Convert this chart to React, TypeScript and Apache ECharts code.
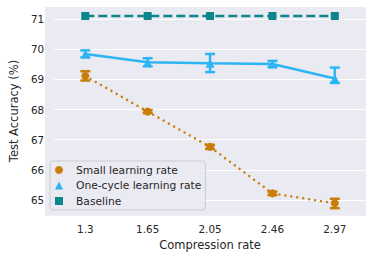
import React, { useEffect, useRef } from "react";
import * as echarts from "echarts";

const categories = ["1.3", "1.65", "2.05", "2.46", "2.97"];
const smallMean = [69.11, 67.93, 66.76, 65.22, 64.89];
const smallLow = [68.96, 67.88, 66.69, 65.16, 64.73];
const smallHigh = [69.27, 67.98, 66.83, 65.28, 65.04];
const oneCycleMean = [69.84, 69.57, 69.53, 69.51, 69.03];
const oneCycleLow = [69.73, 69.43, 69.24, 69.41, 68.88];
const oneCycleHigh = [69.96, 69.70, 69.84, 69.61, 69.39];
const baselineMean = [71.1, 71.1, 71.1, 71.1, 71.1];
const yTicks = [65, 66, 67, 68, 69, 70, 71];

const C_SMALL = "#C97E0C";
const C_ONE = "#2DB5F3";
const C_BASE = "#0B878C";
const FONT = "DejaVu Sans";
const TXT = "#262626";

function errorSeries(name: string, low: number[], high: number[], color: string) {
  return {
    type: "custom",
    name: name + " err",
    clip: false,
    silent: true,
    z: 3,
    data: low.map((l, i) => [i, l, high[i]]),
    renderItem: (params: any, api: any) => {
      const x = api.value(0);
      const p1 = api.coord([x, api.value(1)]);
      const p2 = api.coord([x, api.value(2)]);
      const hw = 5;
      const st = { stroke: color, lineWidth: 2.5 };
      return {
        type: "group",
        children: [
          { type: "line", shape: { x1: p1[0], y1: p1[1], x2: p2[0], y2: p2[1] }, style: st },
          { type: "line", shape: { x1: p1[0] - hw, y1: p1[1], x2: p1[0] + hw, y2: p1[1] }, style: st },
          { type: "line", shape: { x1: p2[0] - hw, y1: p2[1], x2: p2[0] + hw, y2: p2[1] }, style: st },
        ],
      };
    },
  };
}

export default function App() {
  const ref = useRef<HTMLDivElement>(null);
  useEffect(() => {
    if (!ref.current) return;
    const chart = echarts.init(ref.current, undefined, { renderer: "svg" });
    chart.setOption({
      animation: false,
      backgroundColor: "#ffffff",
      textStyle: { fontFamily: FONT },
      graphic: [
        {
          type: "rect",
          z: -10,
          silent: true,
          shape: { x: 45, y: 7, width: 321, height: 208.7 },
          style: { fill: "#EAEAF2" },
        },
      ],
      grid: { left: 45, right: 8, top: 19, bottom: 58 },
      xAxis: {
        type: "category",
        data: categories,
        boundaryGap: true,
        offset: 15.7,
        axisLine: { show: false },
        axisTick: { show: false },
        splitLine: { show: false },
        axisLabel: { color: TXT, fontSize: 10.4, fontFamily: FONT, margin: 8 },
        name: "Compression rate",
        nameLocation: "middle",
        nameGap: 21.5,
        nameTextStyle: { color: TXT, fontSize: 11.5, fontFamily: FONT },
      },
      yAxis: {
        type: "value",
        min: yTicks[0],
        max: yTicks[yTicks.length - 1],
        interval: 1,
        axisLine: { show: false },
        axisTick: { show: false },
        splitLine: { show: true, lineStyle: { color: "#ffffff", width: 1.2 } },
        axisLabel: { color: TXT, fontSize: 10.4, fontFamily: FONT, margin: 10 },
        name: "Test Accuracy (%)",
        nameLocation: "middle",
        nameGap: 27,
        nameRotate: 90,
        nameTextStyle: { color: TXT, fontSize: 11.5, fontFamily: FONT, padding: [0, 3, 4, 0] },
      },
      legend: {
        orient: "vertical",
        left: 50,
        top: 161,
        padding: [3, 4, 3, 5],
        itemWidth: 24,
        itemHeight: 8,
        itemGap: 3.5,
        symbolKeepAspect: true,
        backgroundColor: "rgba(234,234,242,0.85)",
        borderColor: "#cccccc",
        borderWidth: 1,
        borderRadius: 3,
        textStyle: { color: TXT, fontSize: 10.7, fontFamily: FONT, lineHeight: 12 },
        data: [
          { name: "Small learning rate", icon: "path://M10,0 A5,5 0 1 1 9.99,0 Z" },
          { name: "One-cycle learning rate", icon: "path://M0,10 L5,0 L10,10 Z" },
          { name: "Baseline", icon: "path://M0,0 L10,0 L10,10 L0,10 Z" },
        ],
      },
      series: [
        {
          type: "line",
          name: "Baseline",
          data: baselineMean,
          clip: false,
          symbol: "rect",
          symbolSize: 8,
          itemStyle: { color: C_BASE },
          lineStyle: { color: C_BASE, width: 2.5, type: [9, 4] },
          z: 2,
        },
        {
          type: "line",
          name: "One-cycle learning rate",
          data: oneCycleMean,
          clip: false,
          symbol: "triangle",
          symbolSize: 9,
          itemStyle: { color: C_ONE },
          lineStyle: { color: C_ONE, width: 2.5 },
          z: 2,
        },
        {
          type: "line",
          name: "Small learning rate",
          data: smallMean,
          clip: false,
          symbol: "circle",
          symbolSize: 8,
          itemStyle: { color: C_SMALL },
          lineStyle: { color: C_SMALL, width: 2.5, type: [0.01, 6], cap: "round" },
          z: 2,
        },
        errorSeries("One-cycle learning rate", oneCycleLow, oneCycleHigh, C_ONE),
        errorSeries("Small learning rate", smallLow, smallHigh, C_SMALL),
      ],
    });
    return () => chart.dispose();
  }, []);
  return (
    <div
      ref={ref}
      style={{ position: "fixed", left: 0, top: 0, width: 374, height: 258 }}
    />
  );
}
